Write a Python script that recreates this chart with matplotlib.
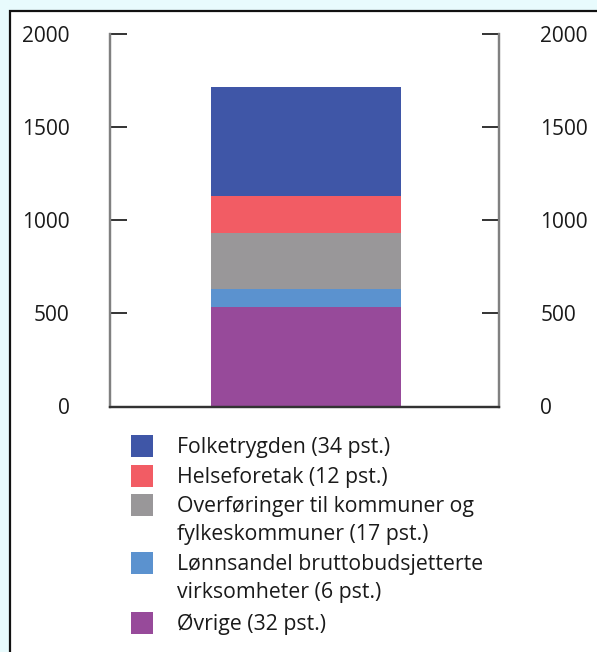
import matplotlib
matplotlib.use("Agg")
import matplotlib.pyplot as plt
from matplotlib.patches import Rectangle

plt.rcParams['font.family'] = ['Open Sans', 'DejaVu Sans']

# segments from bottom to top of the stack
labels = ['Øvrige (32 pst.)',
          'Lønnsandel bruttobudsjetterte\nvirksomheter (6 pst.)',
          'Overføringer til kommuner og\nfylkeskommuner (17 pst.)',
          'Helseforetak (12 pst.)',
          'Folketrygden (34 pst.)']
values = [532, 98, 302, 197, 584]
colors = ['#974a9a', '#5b92cf', '#999799', '#f25c64', '#3f56a7']
yticks = [0, 500, 1000, 1500, 2000]

W, H = 597, 652
fig = plt.figure(figsize=(W / 100, H / 100), dpi=100)
fig.patch.set_facecolor('#e8fbfd')

# white panel with dark top/left border
fig.patches.append(Rectangle((10 / W, -0.1), 1.2, 1.1 - 11 / H, transform=fig.transFigure,
                             facecolor='white', edgecolor='#111111', linewidth=1.6, zorder=-5))

ax = fig.add_axes([110 / W, 1 - 406.5 / H, 388.5 / W, 373 / H])
ax.set_facecolor('none')

bottom = 0
for v, c in zip(values, colors):
    ax.bar(0.0, v, width=0.975, bottom=bottom, color=c, linewidth=0)
    bottom += v

ax.set_xlim(-1.01, 0.99)
ax.set_ylim(0, 2000)
ax.set_xticks([])
ax.set_yticks(yticks)
ax.tick_params(axis='y', direction='in', length=12, width=1.2, color='#111111',
               labelsize=15, left=True, right=True, labelleft=True, labelright=False,
               pad=29)
ax.tick_params(axis='y', labelcolor='#1a1a1a')

ax2 = ax.twinx()
ax2.set_ylim(0, 2000)
ax2.set_yticks(yticks)
ax2.tick_params(axis='y', direction='in', length=12, width=1.2, color='#111111',
                labelsize=15, labelcolor='#1a1a1a', pad=30)
for a in (ax, ax2):
    a.spines['top'].set_visible(False)
    a.spines['left'].set_color('#808080')
    a.spines['right'].set_color('#808080')
    a.spines['left'].set_linewidth(1.6)
    a.spines['right'].set_linewidth(1.6)
    a.spines['bottom'].set_color('#333333')
    a.spines['bottom'].set_linewidth(1.6)

# legend, top entry first
rows = [446, 476, 505, 563, 623]
for y, lab, c in zip(rows, labels[::-1], colors[::-1]):
    fig.patches.append(Rectangle((131 / W, 1 - (y + 11) / H), 22 / W, 22 / H,
                                 transform=fig.transFigure, facecolor=c, linewidth=0))
    fig.text(177 / W, 1 - (y - 9) / H, lab, fontsize=15.3, color='#1a1a1a',
             va='top', ha='left', linespacing=1.42)

fig.savefig('out.png', dpi=100, facecolor=fig.get_facecolor())
